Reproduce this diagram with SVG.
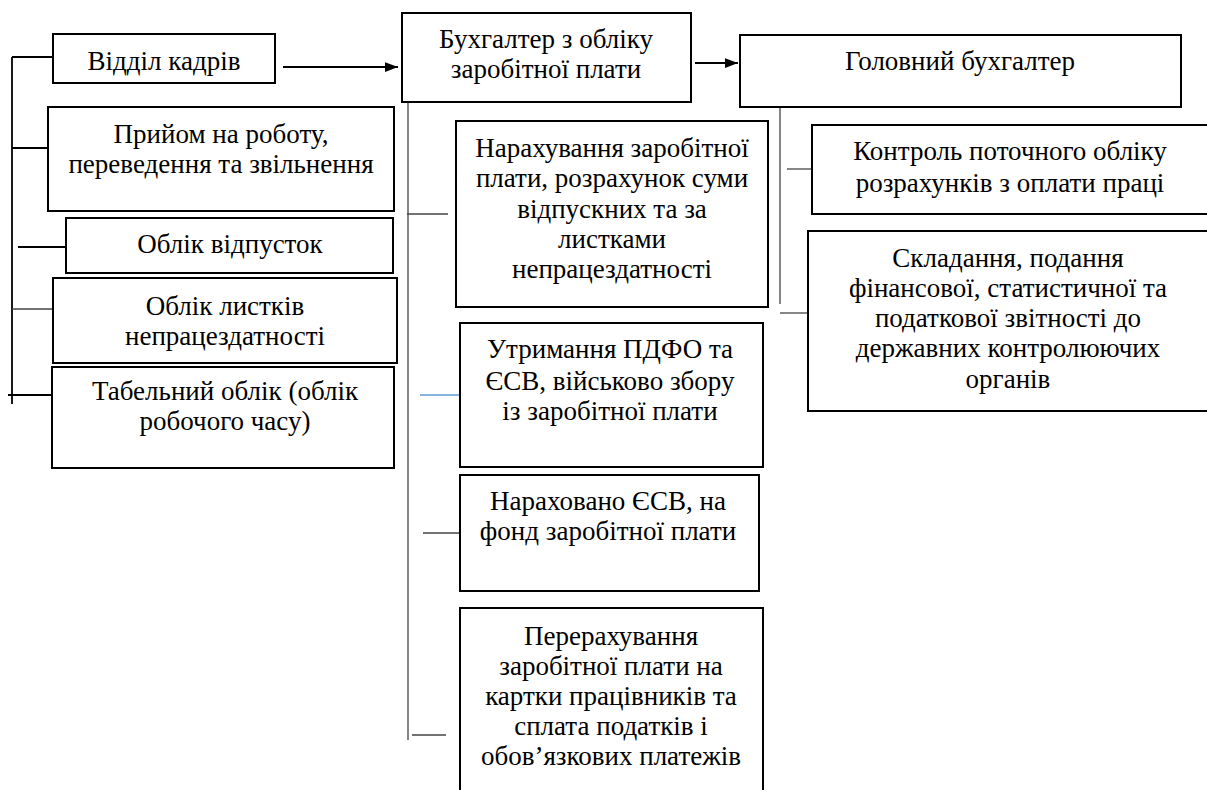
<svg xmlns="http://www.w3.org/2000/svg" width="1207" height="790" viewBox="0 0 1207 790">
<style>
.box{fill:#fff;stroke:#000;stroke-width:2}
.t{font-family:Liberation Serif, serif;font-size:27px;fill:#000;text-anchor:middle}
.c{stroke:#000;stroke-width:1.8;fill:none}
.g{stroke:#444;stroke-width:1.3;fill:none}
.b{stroke:#5b9bd5;stroke-width:1.3;fill:none}
</style>
<defs>
<marker id="ah" viewBox="0 0 16 12" refX="16" refY="6" markerWidth="7.5" markerHeight="5.8" orient="auto">
<path d="M0,0 L16,6 L0,12 Z" fill="#000"/>
</marker>
</defs>
<rect width="1207" height="790" fill="#fff"/>
<g id="connectors">
<line class="c" x1="12" y1="57" x2="12" y2="404"/>
<line class="c" x1="12" y1="57" x2="53" y2="57"/>
<line class="c" x1="12" y1="148" x2="48" y2="148"/>
<line class="c" x1="18" y1="247" x2="66" y2="247"/>
<line class="g" x1="12" y1="309" x2="53" y2="309"/>
<line class="c" x1="8" y1="395" x2="52" y2="395"/>
<line class="c" x1="283" y1="67" x2="398" y2="67" stroke-width="2.2" marker-end="url(#ah)"/>
<line class="c" x1="695" y1="63" x2="738" y2="63" stroke-width="2.2" marker-end="url(#ah)"/>
<line class="g" x1="408" y1="102" x2="408" y2="740"/>
<line class="g" x1="407" y1="214" x2="448" y2="214"/>
<line class="b" x1="420" y1="395" x2="460" y2="395"/>
<line class="g" x1="423" y1="533" x2="460" y2="533"/>
<line class="g" x1="412" y1="735" x2="446" y2="735"/>
<line class="g" x1="780" y1="107" x2="780" y2="304"/>
<line class="g" x1="787" y1="169" x2="812" y2="169"/>
<line class="g" x1="780" y1="313" x2="808" y2="313"/>
</g>
<g id="n-viddil">
<rect class="box" x="53" y="34" width="222" height="49"/>
<text class="t" x="164" y="70">Відділ кадрів</text>
</g>
<g id="n-pryiom">
<rect class="box" x="48" y="107" width="346" height="104"/>
<text class="t" x="221" y="143">Прийом на роботу,</text>
<text class="t" x="221" y="173">переведення та звільнення</text>
</g>
<g id="n-vidpustky">
<rect class="box" x="66" y="218" width="327" height="55"/>
<text class="t" x="230" y="253">Облік відпусток</text>
</g>
<g id="n-lystky">
<rect class="box" x="53" y="278" width="344" height="85"/>
<text class="t" x="225" y="315">Облік листків</text>
<text class="t" x="225" y="345">непрацездатності</text>
</g>
<g id="n-tabel">
<rect class="box" x="52" y="367" width="342" height="101"/>
<text class="t" x="225" y="400">Табельний облік (облік</text>
<text class="t" x="225" y="430">робочого часу)</text>
</g>
<g id="n-bukh">
<rect class="box" x="402" y="13" width="289" height="89"/>
<text class="t" x="546" y="48">Бухгалтер з обліку</text>
<text class="t" x="546" y="78">заробітної плати</text>
</g>
<g id="n-holovnyi">
<rect class="box" x="740" y="35" width="441" height="72"/>
<text class="t" x="960" y="70">Головний бухгалтер</text>
</g>
<g id="n-narakh">
<rect class="box" x="456" y="121" width="312" height="186"/>
<text class="t" x="612" y="157">Нарахування заробітної</text>
<text class="t" x="612" y="187">плати, розрахунок суми</text>
<text class="t" x="612" y="218">відпускних та за</text>
<text class="t" x="612" y="248">листками</text>
<text class="t" x="612" y="278">непрацездатності</text>
</g>
<g id="n-utrym">
<rect class="box" x="460" y="323" width="303" height="144"/>
<text class="t" x="610" y="358">Утримання ПДФО та</text>
<text class="t" x="610" y="390">ЄСВ, військово збору</text>
<text class="t" x="610" y="420">із заробітної плати</text>
</g>
<g id="n-narakhovano">
<rect class="box" x="460" y="475" width="299" height="116"/>
<text class="t" x="608" y="510">Нараховано ЄСВ, на</text>
<text class="t" x="608" y="540">фонд заробітної плати</text>
</g>
<g id="n-perer">
<rect class="box" x="460" y="608" width="303" height="200"/>
<text class="t" x="611" y="645">Перерахування</text>
<text class="t" x="611" y="675">заробітної плати на</text>
<text class="t" x="611" y="705">картки працівників та</text>
<text class="t" x="611" y="735">сплата податків і</text>
<text class="t" x="611" y="765">обов’язкових платежів</text>
</g>
<g id="n-kontrol">
<rect class="box" x="812" y="125" width="400" height="89"/>
<text class="t" x="1010" y="160">Контроль поточного обліку</text>
<text class="t" x="1010" y="192">розрахунків з оплати праці</text>
</g>
<g id="n-skladannia">
<rect class="box" x="808" y="231" width="404" height="180"/>
<text class="t" x="1008" y="267">Складання, подання</text>
<text class="t" x="1008" y="297">фінансової, статистичної та</text>
<text class="t" x="1008" y="327">податкової звітності до</text>
<text class="t" x="1008" y="357">державних контролюючих</text>
<text class="t" x="1008" y="388">органів</text>
</g>
</svg>
